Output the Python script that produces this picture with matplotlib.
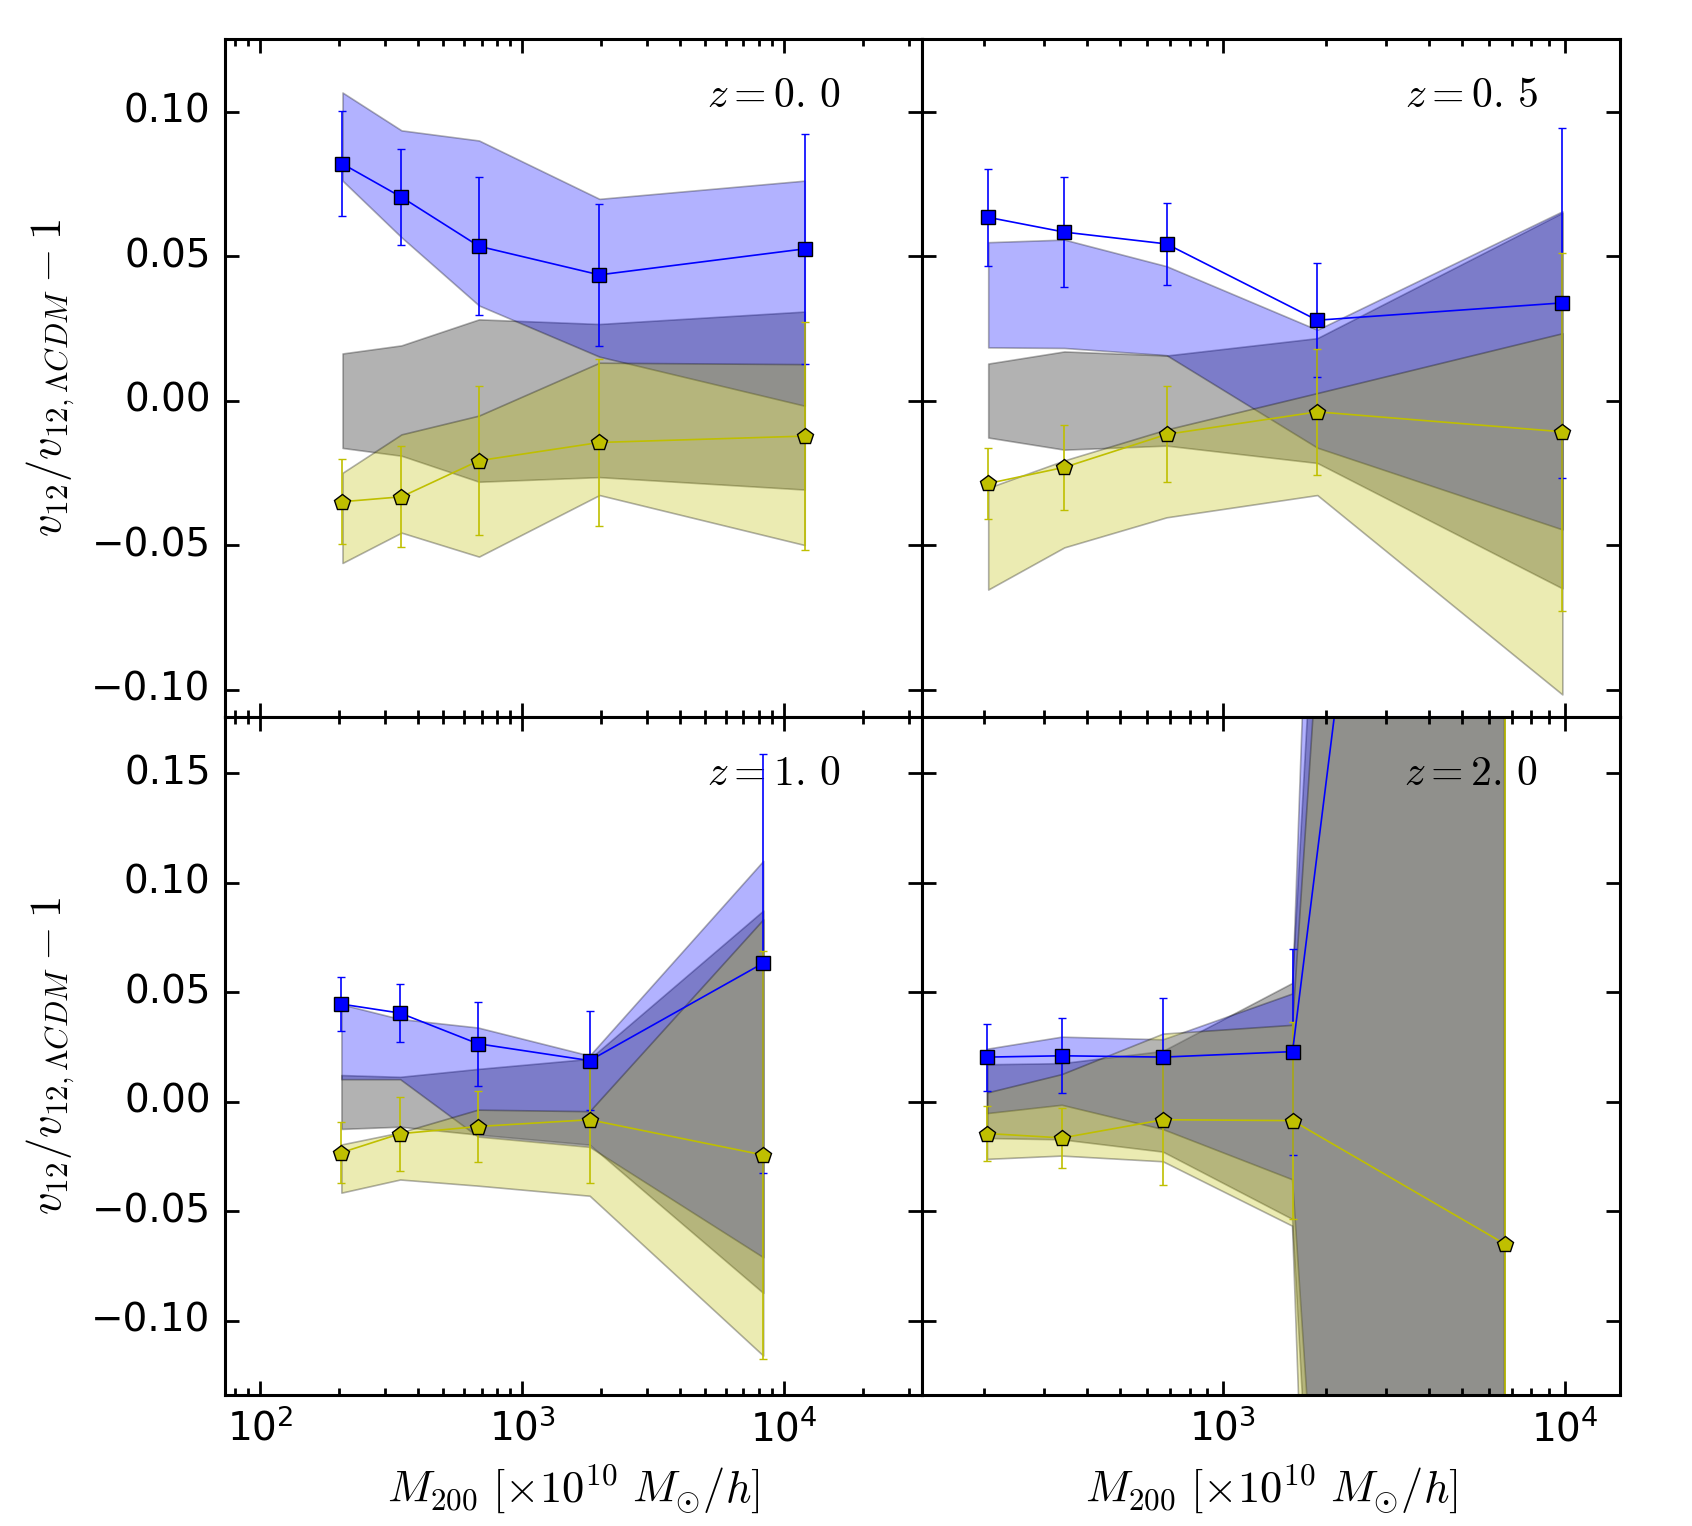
import numpy as np
import matplotlib
matplotlib.use('Agg')
import matplotlib.pyplot as plt

# panel order: z=0.0, z=0.5, z=1.0, z=2.0
redshift_labels = [r'$z=0.\,0$', r'$z=0.\,5$', r'$z=1.\,0$', r'$z=2.\,0$']

mass = [[206, 346, 684, 1973, 12000],
        [206, 344, 685, 1890, 9850],
        [204, 342, 678, 1810, 8330],
        [205, 339, 670, 1600, 6680]]

blue_val = [[0.0819, 0.0704, 0.0534, 0.0435, 0.0525],
            [0.0634, 0.0583, 0.0542, 0.0278, 0.0338],
            [0.0446, 0.0405, 0.0265, 0.0188, 0.0633],
            [0.0204, 0.0210, 0.0204, 0.0229, 0.80]]
blue_err = [[0.0182, 0.0167, 0.0238, 0.0246, 0.0398],
            [0.0167, 0.0190, 0.0143, 0.0198, 0.0606],
            [0.0124, 0.0134, 0.0191, 0.0226, 0.0957],
            [0.0153, 0.0172, 0.0268, 0.0470, 0.30]]

yel_val = [[-0.0350, -0.0333, -0.0208, -0.0145, -0.0123],
           [-0.0287, -0.0231, -0.0117, -0.0039, -0.0108],
           [-0.0232, -0.0146, -0.0113, -0.0082, -0.0243],
           [-0.0145, -0.0165, -0.0082, -0.0086, -0.0649]]
yel_err = [[0.0148, 0.0175, 0.0257, 0.0290, 0.0395],
           [0.0124, 0.0148, 0.0166, 0.0217, 0.0619],
           [0.0140, 0.0170, 0.0164, 0.0290, 0.0930],
           [0.0127, 0.0137, 0.0296, 0.0450, 0.60]]

# shaded bands (upper / lower edges)
band_blue_hi = [[0.1066, 0.0935, 0.0900, 0.0698, 0.0761],
                [0.0548, 0.0557, 0.0465, 0.0245, 0.0655],
                [0.0445, 0.0378, 0.0339, 0.0211, 0.110],
                [0.0240, 0.0295, 0.0283, 0.0492, 2.8]]
band_blue_lo = [[0.0761, 0.0565, 0.0329, 0.0152, -0.0018],
                [0.0184, 0.0182, 0.0157, -0.0163, -0.0446],
                [0.0103, 0.0103, -0.0159, -0.0206, -0.0710],
                [-0.0054, -0.0016, -0.0127, -0.0356, -1.5]]
band_grey_hi = [[0.0163, 0.0191, 0.0281, 0.0265, 0.0308],
                [0.0128, 0.0170, 0.0156, 0.0216, 0.0650],
                [0.0122, 0.0114, 0.0150, 0.0196, 0.0873],
                [0.0169, 0.0174, 0.0230, 0.0540, 1.8]]
band_grey_lo = [[-0.0164, -0.0191, -0.0281, -0.0265, -0.0308],
                [-0.0128, -0.0170, -0.0156, -0.0216, -0.0650],
                [-0.0124, -0.0114, -0.0150, -0.0196, -0.0873],
                [-0.0168, -0.0174, -0.0230, -0.0537, -1.8]]
band_yel_hi = [[-0.0250, -0.0117, -0.0052, 0.0131, 0.0126],
               [-0.0302, -0.0207, -0.0100, 0.0026, 0.0233],
               [-0.0195, -0.0140, -0.0036, -0.0043, 0.0833],
               [0.0040, 0.0124, 0.0309, 0.0349, 1.5]]
band_yel_lo = [[-0.0562, -0.0457, -0.0540, -0.0327, -0.0500],
               [-0.0654, -0.0508, -0.0404, -0.0327, -0.1017],
               [-0.0415, -0.0355, -0.0383, -0.0429, -0.1159],
               [-0.0263, -0.0248, -0.0274, -0.0568, -2.8]]

plt.style.use('classic')
plt.rcParams['font.size'] = 14
plt.rcParams['axes.linewidth'] = 1.1
for ax_name in ['xtick', 'ytick']:
    plt.rcParams[ax_name + '.major.size'] = 5
    plt.rcParams[ax_name + '.minor.size'] = 2.5
    plt.rcParams[ax_name + '.major.width'] = 1.0
    plt.rcParams[ax_name + '.minor.width'] = 1.0
    plt.rcParams[ax_name + '.major.pad'] = 5

fig, axes = plt.subplots(2, 2, figsize=(8.46, 7.63), dpi=200,
                         sharex='col', sharey='row', facecolor='white')
fig.subplots_adjust(left=0.1327, right=0.9573, top=0.9746, bottom=0.0857,
                    wspace=0, hspace=0)

for i, ax in enumerate(axes.flat):
    x = np.array(mass[i])
    ax.fill_between(x, band_grey_lo[i], band_grey_hi[i], facecolor='k',
                    edgecolor='k', alpha=0.3, lw=0.6, zorder=1)
    ax.fill_between(x, band_blue_lo[i], band_blue_hi[i], facecolor='b',
                    edgecolor='k', alpha=0.3, lw=0.6, zorder=1)
    ax.fill_between(x, band_yel_lo[i], band_yel_hi[i], facecolor='y',
                    edgecolor='k', alpha=0.3, lw=0.6, zorder=1)
    ax.errorbar(x, blue_val[i], yerr=blue_err[i], fmt='s-', color='b',
                mfc='b', mec='k', mew=0.5, ms=5.3, lw=0.6, elinewidth=0.6,
                capsize=1.5, capthick=0.6, zorder=2)
    ax.errorbar(x, yel_val[i], yerr=yel_err[i], fmt='p-', color='y',
                mfc='y', mec='k', mew=0.5, ms=5.8, lw=0.6, elinewidth=0.6,
                capsize=1.5, capthick=0.6, zorder=2)
    ax.text(0.882, 0.917, redshift_labels[i], transform=ax.transAxes,
            ha='right', va='center', fontsize=15, zorder=1.5)
    ax.set_xscale('log')

axes[0, 0].set_xlim(73, 3.37e4)
axes[0, 1].set_xlim(132, 1.45e4)
axes[0, 0].set_ylim(-0.1095, 0.1252)
axes[1, 0].set_ylim(-0.134, 0.1757)

for ax in axes[:, 0]:
    ax.set_ylabel(r'$v_{12}/v_{12,\Lambda CDM}-1$', fontsize=16)
for ax in axes[1, :]:
    ax.set_xlabel(r'$M_{200}\ [\times 10^{10}\ M_{\odot}/h]$', fontsize=16)

plt.savefig('out.png', dpi=200, facecolor='white')
